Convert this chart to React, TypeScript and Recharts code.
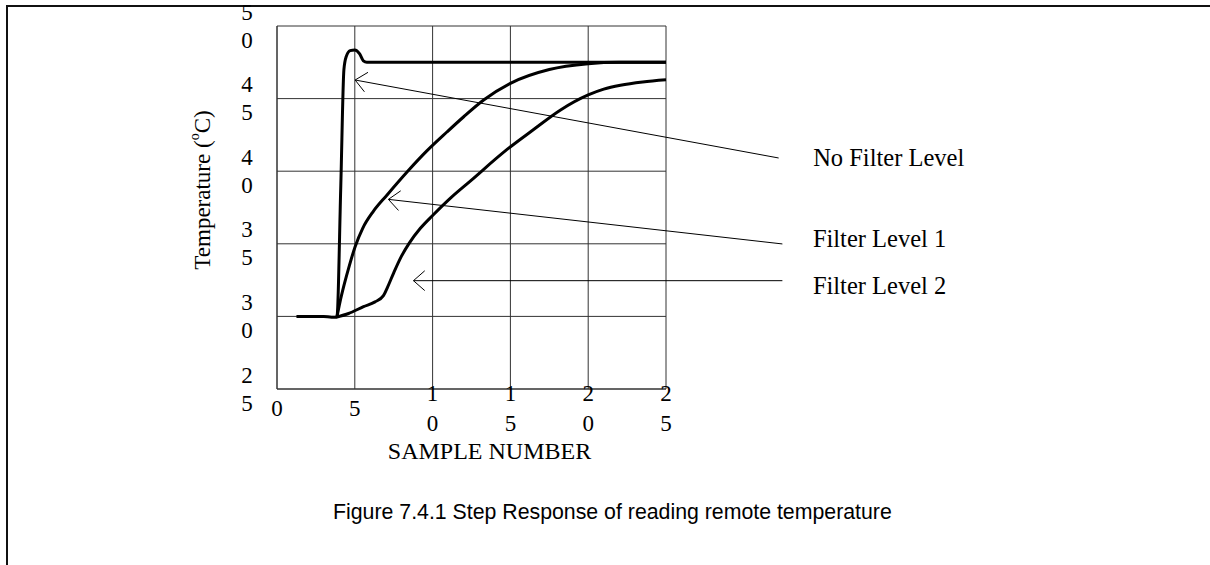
import { LineChart, Line, XAxis, YAxis, CartesianGrid, ReferenceLine, Label } from 'recharts'

const sampleTicks = [0, 5, 10, 15, 20, 25]
const tempTicks = [25, 30, 35, 40, 45, 50]

const noFilterSample = [1.25, 3.0, 3.5, 3.85, 4.1, 4.3, 4.45, 4.7, 5.0, 5.3, 5.55, 5.77, 25]
const noFilterTemp = [30, 30, 29.95, 29.95, 39, 47, 47.9, 48.3, 48.35, 48.1, 47.6, 47.5, 47.5]

const level1Sample = [3.85, 4.05, 4.32, 4.65, 5.02, 5.5, 6.2, 7.06, 8.4, 9.63, 10.92, 12, 13.28, 15, 17.5, 20, 22, 25]
const level1Temp = [29.95, 31.0, 32.2, 33.5, 34.8, 36.05, 37.25, 38.35, 40.0, 41.4, 42.7, 43.75, 44.9, 46.05, 47.0, 47.4, 47.5, 47.5]

const level2Sample = [3.85, 4.6, 5.56, 6.3, 6.84, 7.1, 7.5, 8.0, 8.5, 9.2, 10, 11.2, 12.42, 14.67, 16.47, 18.2, 20, 21, 22.07, 23.5, 25]
const level2Temp = [29.95, 30.2, 30.67, 31.0, 31.43, 32.0, 33.0, 34.15, 35.05, 36.05, 36.95, 38.2, 39.32, 41.4, 42.85, 44.2, 45.25, 45.65, 45.92, 46.15, 46.3]

// callouts: arrow tip on the curve, tail near the label
const calloutNames = ['No Filter Level', 'Filter Level 1', 'Filter Level 2']
const calloutTipSample = [5.02, 7.16, 8.77]
const calloutTipTemp = [46.28, 38.06, 32.46]
const calloutTailSample = [32.24, 32.48, 32.48]
const calloutTailTemp = [40.91, 34.99, 32.46]

const toPoints = (xs: number[], ys: number[]) => xs.map((s, i) => ({ sample: s, temp: ys[i] }))

const serif = '"Liberation Serif", "Times New Roman", serif'
const textDx = [34.5, 30.5, 30.5]
const textDy = [0, -5, 5]

const TempTick = ({ x, y, payload }: any) => {
  const s = String(payload.value)
  const st = { fontFamily: serif, fontSize: 23, fill: '#000' }
  return (
    <g>
      <text x={x - 30} y={y - 14} textAnchor="middle" dominantBaseline="central" style={st}>{s[0]}</text>
      <text x={x - 30} y={y + 14} textAnchor="middle" dominantBaseline="central" style={st}>{s[1]}</text>
    </g>
  )
}

const SampleTick = ({ x, y, payload }: any) => {
  const s = String(payload.value)
  const st = { fontFamily: serif, fontSize: 23, fill: '#000' }
  if (s.length === 1) {
    return <text x={x} y={y + 19} textAnchor="middle" dominantBaseline="central" style={st}>{s}</text>
  }
  return (
    <g>
      <text x={x} y={y + 4} textAnchor="middle" dominantBaseline="central" style={st}>{s[0]}</text>
      <text x={x} y={y + 34} textAnchor="middle" dominantBaseline="central" style={st}>{s[1]}</text>
    </g>
  )
}

const calloutShape = (name: string, dx: number, dy: number) => (p: any) => {
  const { x1, y1, x2, y2 } = p
  const ang = Math.atan2(y2 - y1, x2 - x1)
  const len = 15
  const spread = 0.72
  const ax = x1 + len * Math.cos(ang + spread)
  const ay = y1 + len * Math.sin(ang + spread)
  const bx = x1 + len * Math.cos(ang - spread)
  const by = y1 + len * Math.sin(ang - spread)
  return (
    <g>
      <line x1={x1} y1={y1} x2={x2} y2={y2} stroke="#000" strokeWidth={1} />
      <polyline points={`${ax},${ay} ${x1},${y1} ${bx},${by}`} fill="none" stroke="#000" strokeWidth={1} />
      <text x={x2 + dx} y={y2 + dy} dominantBaseline="central" style={{ fontFamily: serif, fontSize: 24.5, fill: '#000' }}>
        {name}
      </text>
    </g>
  )
}

export default function App() {
  return (
    <div style={{ position: 'absolute', left: 0, top: 0, width: 1210, height: 565, background: '#fff' }}>
      <div
        style={{
          position: 'absolute',
          left: 6,
          top: 5,
          width: 1204,
          height: 560,
          borderTop: '2px solid #111',
          borderLeft: '2px solid #111',
          boxSizing: 'border-box',
        }}
      />
      <LineChart width={1210} height={565} margin={{ top: 26, right: 544, bottom: 146, left: 217 }}>
        <CartesianGrid stroke="#333" strokeWidth={1} />
        <XAxis
          type="number"
          dataKey="sample"
          domain={[0, 25]}
          ticks={sampleTicks}
          height={30}
          tickSize={0}
          tickMargin={0}
          tickLine={false}
          axisLine={{ stroke: '#333' }}
          tick={<SampleTick />}
          interval={0}
        >
          <Label
            content={({ viewBox }: any) => (
              <text
                x={viewBox.x + viewBox.width / 2 + 18}
                y={viewBox.y + 62}
                textAnchor="middle"
                dominantBaseline="central"
                style={{ fontFamily: serif, fontSize: 24, fill: '#000' }}
              >
                SAMPLE NUMBER
              </text>
            )}
          />
        </XAxis>
        <YAxis
          type="number"
          domain={[25, 50]}
          ticks={tempTicks}
          width={60}
          tickSize={0}
          tickMargin={0}
          tickLine={false}
          axisLine={{ stroke: '#333' }}
          tick={<TempTick />}
          interval={0}
        >
          <Label
            content={({ viewBox }: any) => {
              const cx = viewBox.x - 15
              const cy = viewBox.y + 164
              return (
                <text
                  x={cx}
                  y={cy}
                  transform={`rotate(-90 ${cx} ${cy})`}
                  textAnchor="middle"
                  dominantBaseline="central"
                  style={{ fontFamily: serif, fontSize: 23, fill: '#000' }}
                >
                  Temperature (<tspan dy={-8} fontSize={14}>o</tspan>
                  <tspan dy={8}>C)</tspan>
                </text>
              )
            }}
          />
        </YAxis>
        <Line data={toPoints(noFilterSample, noFilterTemp)} dataKey="temp" type="monotone" stroke="#000" strokeWidth={3} dot={false} isAnimationActive={false} />
        <Line data={toPoints(level1Sample, level1Temp)} dataKey="temp" type="monotone" stroke="#000" strokeWidth={3} dot={false} isAnimationActive={false} />
        <Line data={toPoints(level2Sample, level2Temp)} dataKey="temp" type="monotone" stroke="#000" strokeWidth={3} dot={false} isAnimationActive={false} />
        {calloutNames.map((name, i) => (
          <ReferenceLine
            key={name}
            segment={[
              { x: calloutTipSample[i], y: calloutTipTemp[i] },
              { x: calloutTailSample[i], y: calloutTailTemp[i] },
            ]}
            ifOverflow="visible"
            shape={calloutShape(name, textDx[i], textDy[i])}
          />
        ))}
      </LineChart>
      <div
        style={{
          position: 'absolute',
          left: 333,
          top: 502,
          fontFamily: '"Liberation Sans", Arial, sans-serif',
          fontSize: 21.3,
          lineHeight: '21px',
          whiteSpace: 'nowrap',
          color: '#000',
        }}
      >
        Figure 7.4.1 Step Response of reading remote temperature
      </div>
    </div>
  )
}
